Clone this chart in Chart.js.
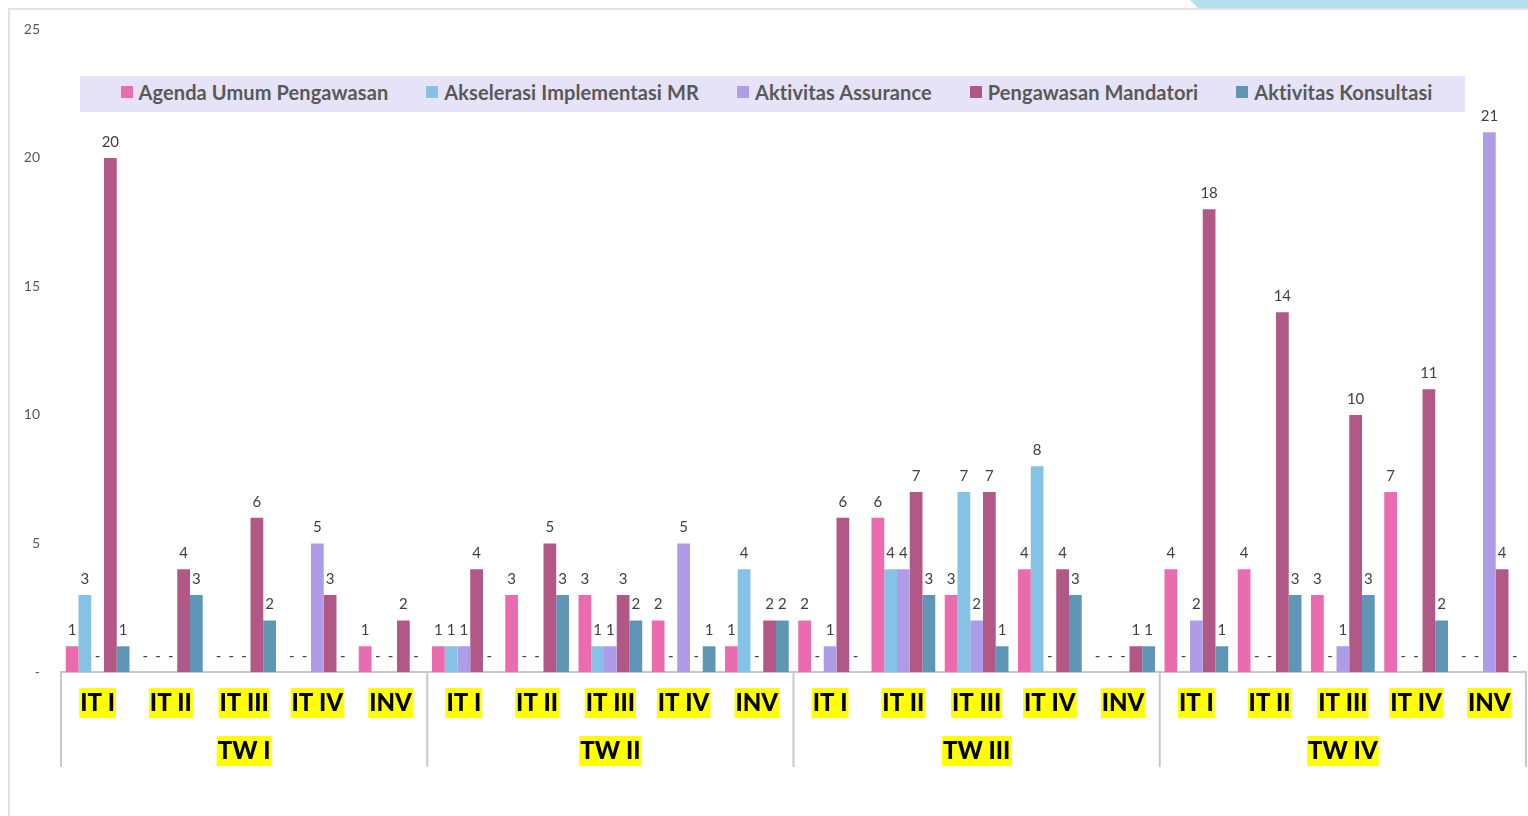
<!DOCTYPE html>
<html>
<head>
<meta charset="utf-8">
<script src="https://cdn.jsdelivr.net/npm/chart.js@4"></script>
<style>
  html, body { margin:0; padding:0; background:#fff; }
  #wrap { position:relative; width:1528px; height:816px; overflow:hidden; }
  #c { position:absolute; left:0; top:0; }
  #deco { position:absolute; left:1190px; top:0; width:338px; height:8px; background:#B5E0F1;
          clip-path: polygon(0 0, 100% 0, 100% 100%, 8px 100%); }
  #frame { position:absolute; left:8px; top:8px; width:1530px; height:820px; border-left:2px solid #E3E3E3; border-top:2px solid #E3E3E3; }
  #legend { position:absolute; left:80px; top:76px; width:1385px; height:36px; background:#E6E2F7;
            display:flex; align-items:center; justify-content:center; gap:38px; box-sizing:border-box; padding-bottom:4px; padding-left:8px;
            font-family:Lato, "Open Sans", sans-serif; font-weight:700; font-size:20px; letter-spacing:0.1px; color:#595959; }
  #legend .it { display:flex; align-items:center; white-space:nowrap; }
  #legend .sw { width:12px; height:12px; margin-right:6px; display:inline-block; }
</style>
</head>
<body>
<div id="wrap">
  <div id="frame"></div>
  <div id="deco"></div>
  <canvas id="c" width="1528" height="816"></canvas>
  <div id="legend"></div>
</div>
<script>
// ---- data ----
const groups = ["TW I", "TW II", "TW III", "TW IV"];
const subCats = ["IT I", "IT II", "IT III", "IT IV", "INV"];
const seriesNames = ["Agenda Umum Pengawasan", "Akselerasi Implementasi MR", "Aktivitas Assurance", "Pengawasan Mandatori", "Aktivitas Konsultasi"];
const seriesColors = ["#EA6BAE", "#86C2E6", "#AE9DE6", "#B15886", "#6096B5"];

const agendaUmum      = [1,0,0,0,1,  1,3,3,2,1,  2,6,3,4,0,  4,4,3,7,0];
const akselerasiMR    = [3,0,0,0,0,  1,0,1,0,4,  0,4,7,8,0,  0,0,0,0,0];
const aktAssurance    = [0,0,0,5,0,  1,0,1,5,0,  1,4,2,0,0,  2,0,1,0,21];
const pengMandatori   = [20,4,6,3,2, 4,5,3,0,2,  6,7,7,4,1,  18,14,10,11,4];
const aktKonsultasi   = [1,3,2,0,0,  0,3,2,1,2,  0,3,1,3,1,  1,3,3,2,0];
const seriesValues = [agendaUmum, akselerasiMR, aktAssurance, pengMandatori, aktKonsultasi];

const labels = [];
groups.forEach(g => subCats.forEach(s => labels.push(s)));

// legend (HTML, real text)
const lg = document.getElementById('legend');
seriesNames.forEach((n, i) => {
  const it = document.createElement('div'); it.className = 'it';
  const sw = document.createElement('span'); sw.className = 'sw'; sw.style.background = seriesColors[i];
  it.appendChild(sw); it.appendChild(document.createTextNode(n)); lg.appendChild(it);
});

const FONT = 'Lato, "Open Sans", sans-serif';

const overlay = {
  id: 'overlay',
  afterDatasetsDraw(chart) {
    const ctx = chart.ctx;
    ctx.save();
    ctx.font = '15px ' + FONT;
    ctx.fillStyle = '#404040';
    ctx.textAlign = 'center';
    ctx.textBaseline = 'middle';
    chart.data.datasets.forEach((ds, di) => {
      const meta = chart.getDatasetMeta(di);
      meta.data.forEach((el, i) => {
        const v = ds.data[i];
        ctx.fillText(v === 0 ? '-' : String(v), el.x, el.y - 16);
      });
    });
    ctx.restore();
  },
  afterDraw(chart) {
    const ctx = chart.ctx, x = chart.scales.x, area = chart.chartArea;
    const n = subCats.length;
    ctx.save();
    ctx.strokeStyle = '#C8C8C8';
    ctx.lineWidth = 2;
    const bottom = 767;
    const bounds = [area.left];
    for (let g = 1; g < groups.length; g++) {
      bounds.push((x.getPixelForValue(g * n - 1) + x.getPixelForValue(g * n)) / 2);
    }
    bounds.push(area.right);
    bounds.forEach(b => {
      ctx.beginPath(); ctx.moveTo(b, area.bottom); ctx.lineTo(b, bottom); ctx.stroke();
    });
    // group labels
    ctx.font = '900 24px ' + FONT;
    ctx.textAlign = 'center';
    ctx.textBaseline = 'middle';
    groups.forEach((g, gi) => {
      const cx = (x.getPixelForValue(gi * n) + x.getPixelForValue(gi * n + n - 1)) / 2;
      const w = ctx.measureText(g).width;
      ctx.fillStyle = '#FFFF00';
      ctx.fillRect(cx - w / 2 - 1, 736, w + 2, 30);
      ctx.fillStyle = '#000000';
      ctx.fillText(g, cx, 751.5);
    });
    ctx.restore();
  }
};

new Chart(document.getElementById('c'), {
  type: 'bar',
  data: {
    labels: labels,
    datasets: seriesNames.map((n, i) => ({
      label: n,
      data: seriesValues[i],
      backgroundColor: seriesColors[i],
      categoryPercentage: 0.87,
      barPercentage: 1.0
    }))
  },
  options: {
    responsive: false,
    animation: false,
    layout: { padding: { left: 0, right: 2, top: 28, bottom: 0 } },
    plugins: { legend: { display: false }, tooltip: { enabled: false } },
    scales: {
      x: {
        grid: { display: false, drawTicks: false },
        border: { display: true, color: '#C8C8C8', width: 2 },
        ticks: {
          autoSkip: false, maxRotation: 0, padding: 16,
          color: '#000', font: { family: FONT, weight: '900', size: 24, lineHeight: 1.25 },
          showLabelBackdrop: true, backdropColor: '#FFFF00', backdropPadding: { top: 0, bottom: 0, left: 1, right: 1 }
        },
        afterFit(s) { s.height = 144; }
      },
      y: {
        min: 0, max: 25,
        grid: { display: false, drawTicks: false },
        border: { display: false },
        ticks: {
          stepSize: 5, padding: 21, color: '#595959',
          font: { family: FONT, size: 14 },
          callback: v => v === 0 ? '-' : v
        },
        afterFit(s) { s.width = 61; }
      }
    }
  },
  plugins: [overlay]
});
</script>
</body>
</html>
